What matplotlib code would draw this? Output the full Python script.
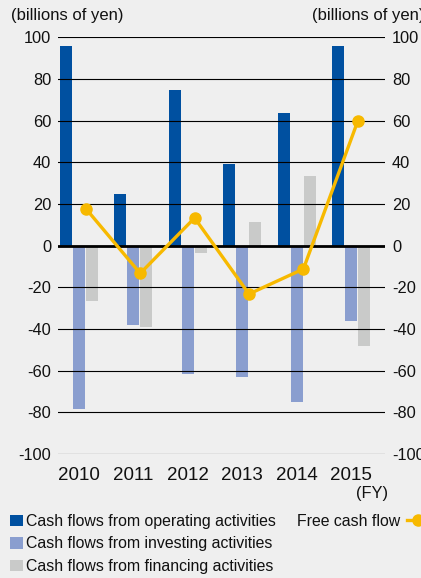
import matplotlib

matplotlib.use("Agg")
import matplotlib.pyplot as plt
import numpy as np
from matplotlib.lines import Line2D
from matplotlib.patches import Patch

YEARS = ["2010", "2011", "2012", "2013", "2014", "2015"]
OPERATING = [95.8, 24.8, 74.7, 39.2, 63.7, 95.8]
INVESTING = [-78.4, -38.0, -61.6, -63.0, -75.0, -36.1]
FINANCING = [-26.5, -39.0, -3.4, 11.4, 33.4, -48.1]
FREE_CASH = [17.8, -13.3, 13.3, -23.2, -11.2, 59.8]

LABELS = [
    "Cash flows from operating activities",
    "Cash flows from investing activities",
    "Cash flows from financing activities",
]
FCF_LABEL = "Free cash flow"

BG = "#efefef"
COLORS = ["#0050a0", "#8a9ecf", "#c9cac9"]
FCF_COLOR = "#f7b900"

plt.rcParams["font.family"] = ["Liberation Sans", "DejaVu Sans"]
plt.rcParams["axes.unicode_minus"] = False


def main() -> None:
    fig = plt.figure(figsize=(4.21, 5.78), dpi=100, facecolor=BG)
    ax = fig.add_axes([58 / 421, 1 - 454 / 578, 327 / 421, 416.7 / 578])
    ax.set_facecolor(BG)

    x = np.arange(len(YEARS))
    width = 0.22
    step = 0.24
    for i, (vals, color) in enumerate(zip([OPERATING, INVESTING, FINANCING], COLORS)):
        ax.bar(x + (i - 1) * step, vals, width=width, color=color, zorder=1)

    ax.plot(x + 0.125, FREE_CASH, color=FCF_COLOR, linewidth=2.4, marker="o",
            markersize=8, zorder=4, clip_on=False)

    ax.set_xlim(-0.386, 5.625)
    ax.set_ylim(-100, 100)
    ax.set_yticks(np.arange(-100, 101, 20))
    ax.set_xticks(x)
    ax.set_xticklabels(YEARS)
    ax.yaxis.grid(True, color="black", linewidth=0.8)
    ax.set_axisbelow(False)
    ax.axhline(0, color="black", linewidth=2.0, zorder=3)
    for spine in ax.spines.values():
        spine.set_visible(False)
    ax.tick_params(axis="y", length=0, pad=5, labelsize=11.8, labelright=True,
                   colors="#111111")
    ax.tick_params(axis="x", length=0, pad=9, labelsize=13.5, colors="#111111")

    fig.text(11 / 421, 1 - 8 / 578, "(billions of yen)", fontsize=12,
             ha="left", va="top", color="#111111")
    fig.text(312 / 421, 1 - 8 / 578, "(billions of yen)", fontsize=12,
             ha="left", va="top", color="#111111")
    fig.text(388 / 421, 1 - 486 / 578, "(FY)", fontsize=11.8,
             ha="right", va="top", color="#111111")

    bar_handles = [Patch(facecolor=c, edgecolor="none") for c in COLORS]
    fig.legend(bar_handles, LABELS, loc="upper left",
               bbox_to_anchor=(10 / 421, 1 - 514 / 578), frameon=False,
               fontsize=11.4, handlelength=0.8, handleheight=0.75,
               handletextpad=0.2, labelspacing=0.47, borderpad=0,
               borderaxespad=0, labelcolor="#111111")
    fcf_handle = Line2D([], [], color=FCF_COLOR, linewidth=2.4, marker="o",
                        markersize=8)
    fig.legend([fcf_handle], [FCF_LABEL], loc="upper left",
               bbox_to_anchor=(297 / 421, 1 - 514 / 578), frameon=False,
               fontsize=11.4, handlelength=1.5, handletextpad=0.4,
               markerfirst=False, borderpad=0, borderaxespad=0,
               labelcolor="#111111")

    fig.savefig("out.png", dpi=100, facecolor=BG)
    plt.close(fig)


if __name__ == "__main__":
    main()
